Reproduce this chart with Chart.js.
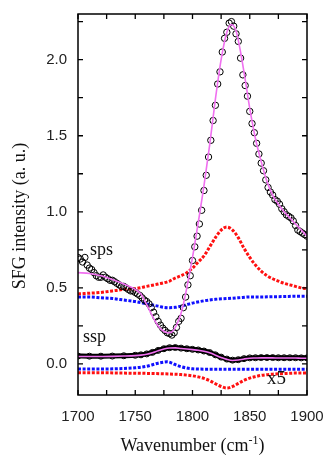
<!DOCTYPE html>
<html>
<head>
<meta charset="utf-8">
<script src="https://cdn.jsdelivr.net/npm/chart.js@4"></script>
<style>
html,body{margin:0;padding:0;background:#fff;}
canvas{display:block;}
</style>
</head>
<body>
<canvas id="c" width="326" height="456"></canvas>
<script>
// ---- tick labels ----
const xTicks = [1700, 1750, 1800, 1850, 1900];
const yTicks = [0.0, 0.5, 1.0, 1.5, 2.0];

// ---- sps measured data (open circles) ----
const spsWave = [1700,1702,1704,1706,1708,1710,1712,1714,1716,1718,1720,1722,1724,1726,1728,1730,1732,1734,1736,1738,1740,1742,1744,1746,1748,1750,1752,1754,1756,1758,1760,1762,1764,1766,1768,1770,1772,1774,1776,1778,1780,1782,1784,1786,1788,1790,1792,1794,1796,1798,1800,1802,1804,1806,1808,1810,1812,1814,1816,1818,1820,1822,1824,1826,1828,1830,1832,1834,1836,1838,1840,1842,1844,1846,1848,1850,1852,1854,1856,1858,1860,1862,1864,1866,1868,1870,1872,1874,1876,1878,1880,1882,1884,1886,1888,1890,1892,1894,1896,1898,1900];
const spsData = [0.70,0.69,0.67,0.70,0.65,0.63,0.62,0.60,0.58,0.57,0.57,0.585,0.57,0.56,0.55,0.55,0.54,0.53,0.52,0.51,0.51,0.50,0.49,0.48,0.48,0.47,0.46,0.45,0.435,0.42,0.41,0.395,0.37,0.34,0.31,0.28,0.255,0.235,0.22,0.205,0.20,0.19,0.205,0.24,0.28,0.30,0.37,0.44,0.52,0.58,0.68,0.77,0.84,0.92,1.01,1.14,1.24,1.36,1.47,1.60,1.70,1.84,1.92,2.05,2.14,2.18,2.24,2.25,2.22,2.17,2.12,2.01,1.90,1.83,1.76,1.66,1.58,1.52,1.45,1.38,1.32,1.27,1.21,1.16,1.13,1.11,1.08,1.07,1.05,1.02,1.00,0.98,0.97,0.96,0.94,0.91,0.88,0.87,0.86,0.85,0.84];

// ---- sps fit (magenta line) ----
const spsFitWave = [1700,1710,1720,1730,1740,1750,1755,1758,1762,1766,1770,1774,1778,1782,1785,1788,1791,1795,1800,1805,1810,1815,1820,1825,1830,1834,1838,1842,1846,1850,1855,1860,1865,1870,1875,1880,1885,1890,1895,1900];
const spsFit = [0.60,0.595,0.58,0.555,0.525,0.49,0.46,0.42,0.36,0.30,0.25,0.22,0.205,0.21,0.24,0.29,0.36,0.50,0.70,0.93,1.17,1.44,1.74,2.00,2.18,2.23,2.19,2.05,1.87,1.68,1.48,1.33,1.20,1.11,1.05,1.00,0.96,0.92,0.88,0.84];

// ---- sps components (dotted) ----
const spsRedWave = [1700,1710,1720,1730,1740,1750,1760,1770,1780,1785,1790,1795,1800,1805,1810,1815,1820,1825,1830,1835,1840,1845,1850,1855,1860,1865,1870,1875,1880,1885,1890,1895,1900];
const spsRed = [0.46,0.465,0.47,0.48,0.49,0.495,0.51,0.525,0.545,0.565,0.58,0.60,0.63,0.67,0.71,0.77,0.83,0.88,0.90,0.88,0.83,0.76,0.70,0.65,0.61,0.58,0.56,0.545,0.53,0.52,0.51,0.50,0.495];
const spsBlueWave = [1700,1710,1720,1730,1740,1750,1760,1770,1775,1780,1785,1790,1795,1800,1810,1820,1830,1840,1850,1860,1870,1880,1890,1900];
const spsBlue = [0.44,0.44,0.435,0.43,0.42,0.41,0.395,0.38,0.372,0.37,0.372,0.38,0.39,0.40,0.415,0.425,0.43,0.435,0.44,0.44,0.442,0.443,0.445,0.445];

// ---- ssp measured data and fit ----
const sspWave = [1700,1710,1720,1730,1740,1750,1755,1760,1765,1770,1775,1780,1785,1790,1795,1800,1805,1810,1815,1820,1825,1830,1835,1840,1845,1850,1855,1860,1865,1870,1875,1880,1885,1890,1895,1900];
const sspData = [0.052,0.051,0.051,0.052,0.054,0.057,0.060,0.066,0.076,0.089,0.100,0.107,0.108,0.104,0.100,0.096,0.092,0.085,0.075,0.060,0.045,0.032,0.025,0.028,0.035,0.040,0.041,0.042,0.042,0.042,0.041,0.041,0.041,0.041,0.040,0.040];
const sspFit = [0.049,0.049,0.049,0.050,0.052,0.055,0.058,0.064,0.074,0.087,0.098,0.105,0.106,0.102,0.098,0.094,0.090,0.083,0.073,0.058,0.043,0.030,0.023,0.026,0.033,0.038,0.039,0.040,0.040,0.040,0.039,0.039,0.039,0.039,0.038,0.038];

// ---- ssp components (dotted, x5) ----
const sspRedWave = [1700,1720,1740,1760,1780,1790,1800,1805,1810,1815,1820,1825,1830,1835,1840,1845,1850,1855,1860,1870,1880,1890,1900];
const sspRed = [-0.058,-0.058,-0.060,-0.062,-0.066,-0.070,-0.078,-0.085,-0.095,-0.110,-0.130,-0.148,-0.158,-0.148,-0.128,-0.108,-0.093,-0.083,-0.075,-0.067,-0.063,-0.060,-0.060];
const sspBlueWave = [1700,1720,1740,1750,1760,1765,1770,1775,1778,1782,1786,1790,1795,1800,1810,1830,1850,1870,1900];
const sspBlue = [-0.033,-0.033,-0.030,-0.025,-0.015,-0.005,0.005,0.012,0.014,0.006,-0.008,-0.018,-0.027,-0.032,-0.034,-0.034,-0.034,-0.034,-0.034];

const pts = (xs, ys) => xs.map((x, i) => ({x: x, y: ys[i]}));

const RED = '#ff1010', BLUE = '#1010ff', MAG = '#f070f0';

function dotted(xs, ys, color) {
  return {data: pts(xs, ys), showLine: true, borderColor: color, borderWidth: 3,
    borderDash: [3, 1.6], borderCapStyle: 'butt', pointRadius: 0, cubicInterpolationMode: 'monotone', order: 3};
}

const framePlugin = {
  id: 'frame',
  afterDraw(chart) {
    const ctx = chart.ctx, a = chart.chartArea;
    const xs = chart.scales.x, ys = chart.scales.y;
    ctx.save();
    ctx.strokeStyle = '#000';
    ctx.lineWidth = 1.5;
    ctx.strokeRect(a.left, a.top, a.right - a.left, a.bottom - a.top);
    ctx.lineWidth = 1.3;
    const tl = 5;
    ctx.beginPath();
    for (let w = 1700; w <= 1900; w += 25) {
      const px = xs.getPixelForValue(w);
      ctx.moveTo(px, a.bottom); ctx.lineTo(px, a.bottom - tl);
      ctx.moveTo(px, a.top); ctx.lineTo(px, a.top + tl);
    }
    for (let v = 0; v <= 2.25001; v += 0.25) {
      const py = ys.getPixelForValue(v);
      ctx.moveTo(a.left, py); ctx.lineTo(a.left + tl, py);
      ctx.moveTo(a.right, py); ctx.lineTo(a.right - tl, py);
    }
    ctx.stroke();

    // texts
    ctx.fillStyle = '#111';
    ctx.textBaseline = 'alphabetic';
    ctx.font = '18px "Liberation Serif", "Times New Roman", serif';
    ctx.textAlign = 'left';
    ctx.fillText('sps', 90, 255);
    ctx.fillText('ssp', 83, 342);
    ctx.font = '19px "Liberation Serif", "Times New Roman", serif';
    ctx.fillText('x5', 267, 384);

    // y title
    ctx.save();
    ctx.translate(25, 216);
    ctx.rotate(-Math.PI / 2);
    ctx.textAlign = 'center';
    ctx.font = '18px "Liberation Serif", "Times New Roman", serif';
    ctx.fillText('SFG intensity (a. u.)', 0, 0);
    ctx.restore();

    // x title with superscript
    ctx.font = '18px "Liberation Serif", "Times New Roman", serif';
    const t1 = 'Wavenumber (cm', t3 = ')';
    const supFont = '12px "Liberation Serif", "Times New Roman", serif';
    const w1 = ctx.measureText(t1).width, w3 = ctx.measureText(t3).width;
    ctx.font = supFont;
    const w2 = ctx.measureText('-1').width;
    const total = w1 + w2 + w3;
    let x0 = (a.left + a.right) / 2 - total / 2;
    const by = 451;
    ctx.textAlign = 'left';
    ctx.font = '18px "Liberation Serif", "Times New Roman", serif';
    ctx.fillText(t1, x0, by);
    ctx.font = supFont;
    ctx.fillText('-1', x0 + w1, by - 7);
    ctx.font = '18px "Liberation Serif", "Times New Roman", serif';
    ctx.fillText(t3, x0 + w1 + w2, by);
    ctx.restore();
  }
};

new Chart(document.getElementById('c'), {
  type: 'scatter',
  data: {
    datasets: [
      {data: pts(spsFitWave, spsFit), showLine: true, borderColor: MAG, borderWidth: 1.6, pointRadius: 0, cubicInterpolationMode: 'monotone', order: 0},
      {data: pts(sspWave, sspFit), showLine: true, borderColor: MAG, borderWidth: 1.6, pointRadius: 0, cubicInterpolationMode: 'monotone', order: 0},
      {data: pts(spsWave, spsData), showLine: false, pointRadius: 3.2, pointBorderWidth: 1, pointBorderColor: '#000', pointBackgroundColor: 'rgba(0,0,0,0)', order: 1},
      {data: pts(sspWave, sspData), showLine: true, borderColor: '#000', borderWidth: 5, cubicInterpolationMode: 'monotone', pointRadius: 3, pointBorderWidth: 1, pointBorderColor: '#000', pointBackgroundColor: 'rgba(0,0,0,0)', order: 1},
      dotted(spsRedWave, spsRed, RED),
      dotted(spsBlueWave, spsBlue, BLUE),
      dotted(sspRedWave, sspRed, RED),
      dotted(sspBlueWave, sspBlue, BLUE)
    ]
  },
  options: {
    responsive: false,
    animation: false,
    layout: {padding: {top: 14, right: 19, left: 0, bottom: 0}},
    plugins: {legend: {display: false}, tooltip: {enabled: false}},
    scales: {
      x: {
        type: 'linear', min: 1700, max: 1900,
        grid: {display: false, drawTicks: false}, border: {display: false},
        afterBuildTicks: s => { s.ticks = xTicks.map(v => ({value: v})); },
        afterFit: s => { s.height = 61; s.paddingLeft = 0; s.paddingRight = 0; },
        ticks: {padding: 13, color: '#222', font: {family: '"Liberation Sans", Arial, sans-serif', size: 15}, maxRotation: 0,
          callback: v => String(v)}
      },
      y: {
        type: 'linear', min: -0.204, max: 2.3,
        grid: {display: false, drawTicks: false}, border: {display: false},
        afterBuildTicks: s => { s.ticks = yTicks.map(v => ({value: v})); },
        afterFit: s => { s.width = 78; s.paddingTop = 0; s.paddingBottom = 0; },
        ticks: {padding: 11, color: '#222', font: {family: '"Liberation Sans", Arial, sans-serif', size: 15},
          callback: v => Number(v).toFixed(1)}
      }
    }
  },
  plugins: [framePlugin]
});
</script>
</body>
</html>
